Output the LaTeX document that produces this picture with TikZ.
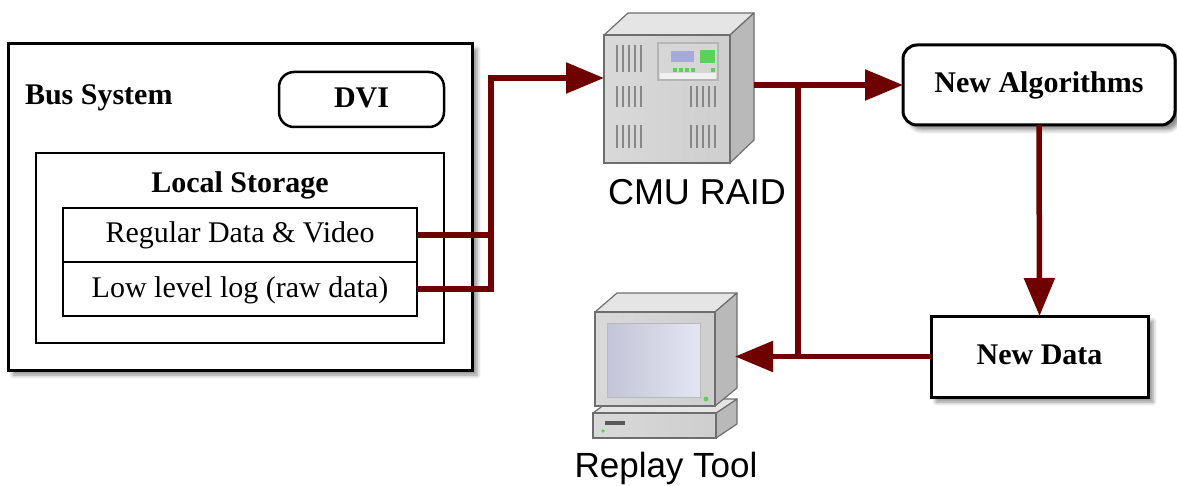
\documentclass[tikz,border=0pt]{standalone}
\usepackage{fontspec}
\setmainfont{Liberation Serif}
\newfontfamily\labelsans{Liberation Sans}
\usetikzlibrary{arrows.meta,shadows.blur}
\definecolor{flowred}{RGB}{110,0,0}
\definecolor{scrblue}{RGB}{165,170,215}
\definecolor{ledgreen}{RGB}{90,210,90}
\definecolor{edgegray}{RGB}{110,110,110}
\definecolor{ventgray}{RGB}{135,135,135}
\begin{document}
\begin{tikzpicture}[x=1pt,y=-1pt,
  every node/.style={inner sep=0pt, outer sep=0pt},
  txt/.style={font=\fontsize{30}{36}\selectfont, text height=21pt, text depth=5pt},
  boldtxt/.style={txt, font=\fontsize{30}{36}\selectfont\bfseries},
  boxframe/.style={draw=black, line width=3pt, fill=white},
  boxinner/.style={draw=black, line width=2.5pt, fill=white},
  shadowed/.style={blur shadow={shadow xshift=5pt, shadow yshift=-5pt, shadow blur radius=4pt, shadow opacity=45}},
  flowline/.style={draw=flowred, line width=5.5pt},
  flow/.style={flowline, -{Triangle[length=38pt,width=30pt]}},
  facetop/.style={fill=gray!20, draw=edgegray, line width=1.2pt, line join=round},
  faceside/.style={fill=gray!55, draw=edgegray, line width=1.2pt, line join=round},
  facefront/.style={left color=gray!30, right color=gray!38, draw=edgegray, line width=1.2pt},
  vent/.style={draw=ventgray, line width=1.8pt}
]
\useasboundingbox (0,0) rectangle (1177,486);

% ---- Bus system with its local storage ----
\node[boxframe, shadowed, minimum width=464pt, minimum height=326pt] (bus) at (240,207) {};
\node[font=\fontsize{30}{36}\selectfont\bfseries, anchor=base west] (bustitle) at (25,105) {Bus System};
\node[boxinner, rounded corners=15pt, minimum width=165pt, minimum height=55pt, boldtxt] (dvi) at (361.5,99.5) {DVI};
\node[boxinner, minimum width=408pt, minimum height=190pt] (storage) at (240,248) {};
\node[font=\fontsize{30}{36}\selectfont\bfseries, anchor=base] (storagetitle) at (240,193) {Local Storage};
\node[boxinner, minimum width=354pt, minimum height=54pt, txt] (row1) at (240,235) {Regular Data \& Video};
\node[boxinner, minimum width=354pt, minimum height=54pt, txt] (row2) at (240,289) {Low level log (raw data)};

% ---- RAID server ----
\node[minimum width=150pt, minimum height=150pt] (srv) at (679,88) {};
\filldraw[facetop] (604,35) -- (628,13) -- (754,13) -- (730,35) -- cycle;
\filldraw[faceside] (730,35) -- (754,13) -- (754,140) -- (730,163) -- cycle;
\filldraw[facefront] (604,35) rectangle (730,163);
\filldraw[fill=gray!32, draw=gray!58, line width=1.2pt] (658,43) rectangle (718,80);
\fill[gray!12] (660,73) rectangle (716,79);
\fill[scrblue] (671,51) rectangle (694,62);
\fill[ledgreen] (700,50) rectangle (715,63);
\foreach \x in {673,679,685,691,711}
  \fill[ledgreen] (\x,68) rectangle ++(4,4);
\foreach \x in {617,623,629,635,641} {
  \draw[vent] (\x,45) -- (\x,72);
  \draw[vent] (\x,86) -- (\x,107);
  \draw[vent] (\x,125) -- (\x,148);
}
\foreach \x in {691,697,703,709,715} {
  \draw[vent] (\x,86) -- (\x,107);
  \draw[vent] (\x,125) -- (\x,148);
}
\node[font=\labelsans\fontsize{36}{40}\selectfont] (raidlabel) at (697,192) {CMU RAID};

% ---- Replay workstation ----
\node[minimum width=142pt, minimum height=145pt] (pc) at (664,365.5) {};
\filldraw[faceside] (716,413) -- (737,399) -- (737,424) -- (716,438) -- cycle;
\filldraw[facetop] (593,413) -- (612,399) -- (737,399) -- (716,413) -- cycle;
\filldraw[facefront] (593,413) rectangle (716,438);
\fill[gray!70!black] (605,421) rectangle (625,425);
\fill[ledgreen] (603,431) circle (1.8);
\filldraw[facetop] (595,312) -- (617,293) -- (737,293) -- (715,312) -- cycle;
\filldraw[faceside] (715,312) -- (737,293) -- (737,388) -- (715,406) -- cycle;
\filldraw[facefront] (595,312) rectangle (715,406);
\shade[left color=scrblue!70!gray!60, right color=scrblue!30!white, draw=gray!55, line width=1pt] (607,323) rectangle (700,397);
\fill[ledgreen] (706,399) circle (2.4);
\node[font=\labelsans\fontsize{35}{40}\selectfont, anchor=base] (replaylabel) at (666,477) {Replay Tool};

% ---- Processing chain ----
\node[boxframe, shadowed, rounded corners=14pt, minimum width=272pt, minimum height=80pt, boldtxt] (nalg) at (1039,85) {New Algorithms};
\node[boxframe, shadowed, minimum width=217pt, minimum height=81pt, boldtxt] (ndata) at (1039.5,356.5) {New Data};

% ---- Data flow ----
\coordinate (j1) at (491,78);
\coordinate (j2) at (798,85);
\draw[flowline] (row1.east) -- (row1.east -| j1);
\draw[flow] (row2.east) -| (j1) -- (j1 -| srv.west);
\draw[flow] (srv.east |- nalg.west) -- (nalg.west);
\draw[flow] (nalg.south) -- (ndata.north);
\draw[flowline] (j2) -- (j2 |- ndata.west);
\draw[flow] (ndata.west) -- (pc.east |- ndata.west);
\end{tikzpicture}
\end{document}
